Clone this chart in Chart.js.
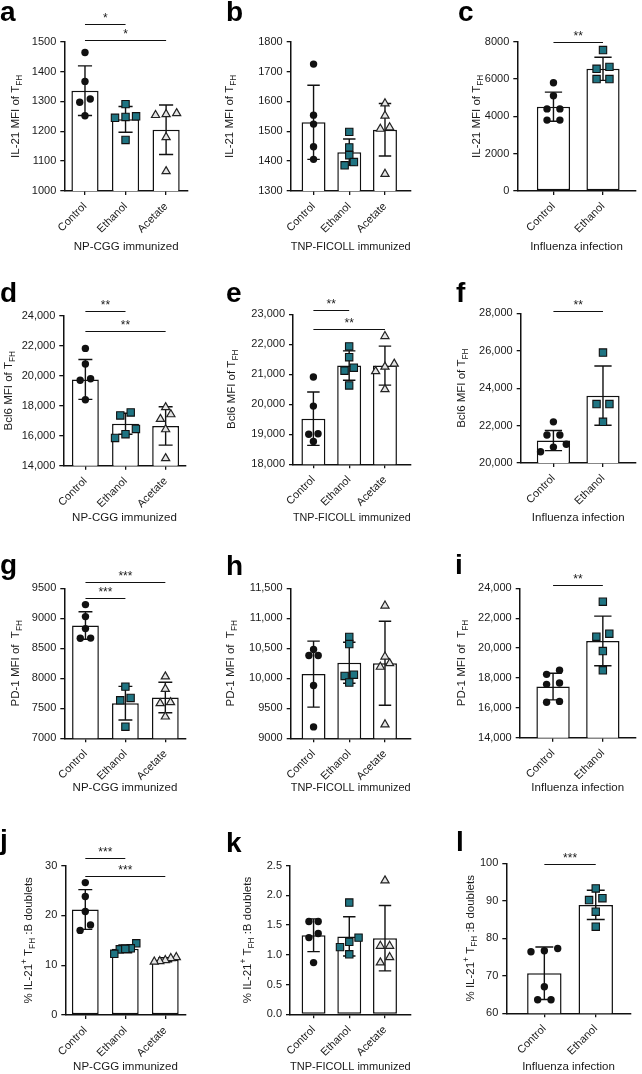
<!DOCTYPE html>
<html>

<head>
    <meta charset="utf-8">
    <script src="https://cdn.jsdelivr.net/npm/chart.js@4.4.2/dist/chart.umd.min.js"></script>
    <style>
        body { margin: 0; background: #fff; }
        #fig { position: relative; width: 642px; height: 1074px; overflow: hidden; background: #fff;
               font-family: 'Liberation Sans', Arial, Helvetica, sans-serif; }
        #fig canvas { position: absolute; }
        .tag { position: absolute; font-weight: bold; font-size: 28px; line-height: 28px; color: #000; }
    </style>
</head>

<body>
    <div id="fig"></div>
</body>
<script>
    // ---- categories ----
    const groupsNP = ['Control', 'Ethanol', 'Acetate'];
    const groupsFlu = ['Control', 'Ethanol'];

    // ---- a: IL-21, NP-CGG ----
    const aControl = [1464, 1367, 1297, 1308, 1252];
    const aEthanol = [1291, 1245, 1248, 1250, 1171];
    const aAcetate = [1254, 1260, 1257, 1180, 1066];
    const aMean = [1336, 1240, 1205];
    const aSd = [83, 43, 83];
    const aAxis = [1000, 1500, 100];
    const aSig = [[0, 1, '*'], [0, 2, '*']];

    // ---- b: IL-21, TNP-FICOLL ----
    const bControl = [1725, 1554, 1524, 1448, 1406];
    const bEthanol = [1498, 1446, 1420, 1386, 1397];
    const bAcetate = [1593, 1552, 1508, 1513, 1357];
    const bMean = [1530, 1430, 1505];
    const bSd = [124, 44, 88];
    const bAxis = [1300, 1800, 100];

    // ---- c: IL-21, influenza ----
    const cControl = [5800, 5100, 4400, 4400, 3800, 3800];
    const cEthanol = [7550, 6650, 6550, 6000, 6000];
    const cMean = [4520, 6550];
    const cSd = [780, 620];
    const cAxis = [0, 8000, 2000];
    const cSig = [[0, 1, '**']];

    // ---- d: Bcl6, NP-CGG ----
    const dControl = [21820, 20780, 19700, 19800, 18400];
    const dEthanol = [17550, 17350, 16450, 16100, 15850];
    const dAcetate = [17890, 17110, 17420, 16420, 14490];
    const dMean = [19750, 16800, 16650];
    const dSd = [1330, 700, 1280];
    const dAxis = [14000, 24000, 2000];
    const dSig = [[0, 1, '**'], [0, 2, '**']];

    // ---- e: Bcl6, TNP-FICOLL ----
    const eControl = [20910, 19940, 19000, 19020, 18760];
    const eEthanol = [21930, 21570, 21120, 21220, 20630];
    const eAcetate = [22270, 21350, 21100, 21250, 20500];
    const eMean = [19520, 21290, 21290];
    const eSd = [890, 490, 650];
    const eAxis = [18000, 23000, 1000];
    const eSig = [[0, 1, '**'], [0, 2, '**']];

    // ---- f: Bcl6, influenza ----
    const fControl = [22200, 21500, 21500, 21000, 20600, 20850];
    const fEthanol = [25900, 23150, 23150, 22200];
    const fMean = [21200, 23600];
    const fSd = [540, 1580];
    const fAxis = [20000, 28000, 2000];
    const fSig = [[0, 1, '**']];

    // ---- g: PD-1, NP-CGG ----
    const gControl = [9228, 9028, 8828, 8667, 8670];
    const gEthanol = [7861, 7633, 7672, 7194];
    const gAcetate = [8028, 7822, 7583, 7600, 7361];
    const gMean = [8880, 7585, 7680];
    const gSd = [230, 280, 255];
    const gAxis = [7000, 9500, 500];
    const gSig = [[0, 1, '***'], [0, 2, '***']];

    // ---- h: PD-1, TNP-FICOLL ----
    const hControl = [10480, 10380, 10380, 9880, 9190];
    const hEthanol = [10690, 10570, 10040, 10060, 9930];
    const hAcetate = [11210, 10360, 10190, 10250, 9230];
    const hMean = [10070, 10260, 10250];
    const hSd = [550, 342, 700];
    const hAxis = [9000, 11500, 500];

    // ---- i: PD-1, influenza ----
    const iControl = [18510, 18240, 17660, 17570, 16370, 16430];
    const iEthanol = [23100, 20960, 20760, 19800, 18510];
    const iMean = [17420, 20480];
    const iSd = [890, 1660];
    const iAxis = [14000, 24000, 2000];
    const iSig = [[0, 1, '**']];

    // ---- j: % doublets, NP-CGG ----
    const jControl = [26.6, 23.8, 20.8, 18.1, 17.0];
    const jEthanol = [14.4, 13.4, 13.2, 13.3, 12.3];
    const jAcetate = [11.6, 11.4, 11.0, 10.8, 10.7];
    const jMean = [21.2, 13.3, 11.1];
    const jSd = [4.0, 0.8, 0.4];
    const jAxis = [0, 30, 10];
    const jSig = [[0, 1, '***'], [0, 2, '***']];

    // ---- k: % doublets, TNP-FICOLL ----
    const kControl = [1.56, 1.56, 1.29, 1.36, 0.87];
    const kEthanol = [1.88, 1.29, 1.22, 1.13, 1.01];
    const kAcetate = [2.25, 1.15, 1.15, 0.87, 0.96];
    const kMean = [1.33, 1.31, 1.28];
    const kSd = [0.275, 0.33, 0.55];
    const kAxis = [0, 2.5, 0.5];

    // ---- l: % doublets, influenza ----
    const lControl = [76.4, 77.3, 76.7, 67.1, 63.6, 63.6];
    const lEthanol = [93.3, 90.2, 90.7, 87.1, 83.1];
    const lMean = [70.7, 88.9];
    const lSd = [7.0, 3.9];
    const lAxis = [60, 100, 10];
    const lSig = [[0, 1, '***']];

    // axis titles (text, 0 normal / -1 subscript / 1 superscript)
    const titleIL21 = [['IL-21 MFI of T', 0], ['FH', -1]];
    const titleBcl6 = [['Bcl6 MFI of T', 0], ['FH', -1]];
    const titlePD1 = [['PD-1 MFI of  T', 0], ['FH', -1]];
    const titleDbl = [['% IL-21', 0], ['+', 1], [' T', 0], ['FH', -1], [' :B doublets', 0]];

    const FONT = "'Liberation Sans', Arial, Helvetica, sans-serif";
    Chart.defaults.font.family = FONT;
    Chart.defaults.color = '#1a1a1a';

    const TEAL = '#1f7482';
    const markStyle = [
        { pointStyle: 'circle', radius: 3.7, bg: '#111', border: '#111', bw: 0 },
        { pointStyle: 'rect', radius: 5.2, bg: TEAL, border: '#111', bw: 1.1 },
        { pointStyle: 'triangle', radius: 4.7, bg: '#e4e4e4', border: '#222', bw: 1.2 }
    ];

    const panels = [
        { id: 'a', cats: groupsNP, groups: [aControl, aEthanol, aAcetate], mean: aMean, sd: aSd, axis: aAxis, sig: aSig, sigAt: [1559, 1505],
          yTitle: titleIL21, xTitle: 'NP-CGG immunized',
          cell: [0, 0, 214, 270], ax: 64.3, top: 41.7, bot: 191, right: 188, xr: [-0.51, 2.54], titleY: 247, yTitleX: 15, letter: [0, 22] },
        { id: 'b', cats: groupsNP, groups: [bControl, bEthanol, bAcetate], mean: bMean, sd: bSd, axis: bAxis,
          yTitle: titleIL21, xTitle: 'TNP-FICOLL immunized',
          cell: [214, 0, 214, 270], ax: 290.7, top: 41.7, bot: 191, right: 410.7, xr: [-0.64, 2.72], titleY: 247, yTitleX: 229, letter: [226, 22] },
        { id: 'c', cats: groupsFlu, groups: [cControl, cEthanol], mean: cMean, sd: cSd, axis: cAxis, sig: cSig, sigAt: [7970],
          yTitle: titleIL21, xTitle: 'Influenza infection',
          cell: [428, 0, 214, 270], ax: 517.3, top: 41.7, bot: 191, right: 641, xr: [-0.73, 1.66], titleY: 247, yTitleX: 476, letter: [458, 22] },
        { id: 'd', cats: groupsNP, groups: [dControl, dEthanol, dAcetate], mean: dMean, sd: dSd, axis: dAxis, sig: dSig, sigAt: [24310, 22980],
          yTitle: titleBcl6, xTitle: 'NP-CGG immunized',
          cell: [0, 270, 214, 260], ax: 63.3, top: 315.7, bot: 465.7, right: 185.7, xr: [-0.55, 2.5], titleY: 518, yTitleX: 8, letter: [0, 303] },
        { id: 'e', cats: groupsNP, groups: [eControl, eEthanol, eAcetate], mean: eMean, sd: eSd, axis: eAxis, sig: eSig, sigAt: [23143, 22510],
          yTitle: titleBcl6, xTitle: 'TNP-FICOLL immunized',
          cell: [214, 270, 214, 260], ax: 293, top: 314.3, bot: 464.3, right: 410.7, xr: [-0.57, 2.72], titleY: 518, yTitleX: 231, letter: [226, 303] },
        { id: 'f', cats: groupsFlu, groups: [fControl, fEthanol], mean: fMean, sd: fSd, axis: fAxis, sig: fSig, sigAt: [28120],
          yTitle: titleBcl6, xTitle: 'Influenza infection',
          cell: [428, 270, 214, 260], ax: 520.7, top: 313.3, bot: 463, right: 641, xr: [-0.66, 1.66], titleY: 518, yTitleX: 461, letter: [456, 303] },
        { id: 'g', cats: groupsNP, groups: [gControl, gEthanol, gAcetate], mean: gMean, sd: gSd, axis: gAxis, sig: gSig, sigAt: [9343, 9600],
          yTitle: titlePD1, xTitle: 'NP-CGG immunized',
          cell: [0, 530, 214, 270], ax: 64.3, top: 588.3, bot: 738.3, right: 185.7, xr: [-0.53, 2.51], titleY: 788, yTitleX: 15, letter: [0, 575] },
        { id: 'h', cats: groupsNP, groups: [hControl, hEthanol, hAcetate], mean: hMean, sd: hSd, axis: hAxis,
          yTitle: titlePD1, xTitle: 'TNP-FICOLL immunized',
          cell: [214, 530, 214, 270], ax: 290.7, top: 588.3, bot: 738.3, right: 410.7, xr: [-0.64, 2.72], titleY: 788, yTitleX: 230, letter: [226, 576] },
        { id: 'i', cats: groupsFlu, groups: [iControl, iEthanol], mean: iMean, sd: iSd, axis: iAxis, sig: iSig, sigAt: [24220],
          yTitle: titlePD1, xTitle: 'Influenza infection',
          cell: [428, 530, 214, 270], ax: 519.7, top: 588.3, bot: 737.7, right: 641, xr: [-0.67, 1.66], titleY: 788, yTitleX: 461, letter: [455, 575] },
        { id: 'j', cats: groupsNP, groups: [jControl, jEthanol, jAcetate], mean: jMean, sd: jSd, axis: jAxis, sig: jSig, sigAt: [31.5, 28.0],
          yTitle: titleDbl, xTitle: 'NP-CGG immunized',
          cell: [0, 800, 214, 274], ax: 65.3, top: 865.7, bot: 1015, right: 185.7, xr: [-0.5, 2.51], titleY: 1067, yTitleX: 28, letter: [0, 850] },
        { id: 'k', cats: groupsNP, groups: [kControl, kEthanol, kAcetate], mean: kMean, sd: kSd, axis: kAxis, dec: true,
          yTitle: titleDbl, xTitle: 'TNP-FICOLL immunized',
          cell: [214, 800, 214, 274], ax: 290, top: 865.7, bot: 1014.3, right: 410.7, xr: [-0.66, 2.72], titleY: 1067, yTitleX: 247, letter: [226, 853] },
        { id: 'l', cats: groupsFlu, groups: [lControl, lEthanol], mean: lMean, sd: lSd, axis: lAxis, sig: lSig, sigAt: [99.7],
          yTitle: titleDbl, xTitle: 'Influenza infection',
          cell: [428, 800, 214, 274], ax: 506.3, top: 863.3, bot: 1013.3, right: 630.7, xr: [-0.74, 1.68], titleY: 1067, yTitleX: 470, letter: [456, 852] }
    ];

    // spread points with nearly equal values side by side (like a scatter dot plot)
    function spread(vals, range) {
        const idx = vals.map((v, i) => i).sort((a, b) => vals[a] - vals[b]);
        const off = vals.map(() => 0);
        let group = [idx[0]];
        const flush = () => {
            const k = group.length;
            const step = k > 1 ? Math.min(0.26, 0.55 / (k - 1)) : 0;
            group.forEach((g, j) => { off[g] = (j - (k - 1) / 2) * step; });
        };
        for (let n = 1; n < idx.length; n++) {
            if (vals[idx[n]] - vals[idx[n - 1]] < range * 0.04) group.push(idx[n]);
            else { flush(); group = [idx[n]]; }
        }
        flush();
        return off;
    }

    function extrasFor(p) {
        return {
            id: 'extras' + p.id,
            afterDatasetDraw(chart, args) {
                if (args.index !== 0) return;
                const ctx = chart.ctx, ys = chart.scales.y;
                ctx.save();
                ctx.strokeStyle = '#111';
                ctx.lineWidth = 1.4;
                args.meta.data.forEach((bar, i) => {
                    const hi = ys.getPixelForValue(p.mean[i] + p.sd[i]);
                    const lo = ys.getPixelForValue(p.mean[i] - p.sd[i]);
                    const w = bar.width * 0.26;
                    ctx.beginPath();
                    ctx.moveTo(bar.x, hi); ctx.lineTo(bar.x, lo);
                    ctx.moveTo(bar.x - w, hi); ctx.lineTo(bar.x + w, hi);
                    ctx.moveTo(bar.x - w, lo); ctx.lineTo(bar.x + w, lo);
                    ctx.stroke();
                });
                ctx.restore();
            },
            afterDraw(chart) {
                const ctx = chart.ctx, xs = chart.scales.x, ys = chart.scales.y, area = chart.chartArea;
                ctx.save();
                ctx.fillStyle = '#1a1a1a';
                ctx.strokeStyle = '#111';
                ctx.lineWidth = 1.2;
                ctx.textAlign = 'center';
                ctx.textBaseline = 'alphabetic';
                ctx.font = '12px ' + FONT;
                (p.sig || []).forEach(([a, b, stars], k) => {
                    const y = Math.round(ys.getPixelForValue(p.sigAt[k])) + 0.5;
                    const x0 = xs.getPixelForValue(a), x1 = xs.getPixelForValue(b);
                    ctx.beginPath(); ctx.moveTo(x0, y); ctx.lineTo(x1, y); ctx.stroke();
                    ctx.fillText(stars, (x0 + x1) / 2, y - 3);
                });

                // rotated y title with sub/superscripts
                const size = 11.5, small = size * 0.72;
                ctx.translate(p.yTitleX - p.cell[0] + size * 0.35, (area.top + area.bottom) / 2);
                ctx.rotate(-Math.PI / 2);
                ctx.textAlign = 'left';
                let total = 0;
                const widths = p.yTitle.map(([t, m]) => {
                    ctx.font = (m ? small : size) + 'px ' + FONT;
                    const w = ctx.measureText(t).width;
                    total += w;
                    return w;
                });
                let x = -total / 2;
                p.yTitle.forEach(([t, m], k) => {
                    ctx.font = (m ? small : size) + 'px ' + FONT;
                    const dy = m === -1 ? size * 0.28 : m === 1 ? -size * 0.4 : 0;
                    ctx.fillText(t, x, dy);
                    x += widths[k];
                });
                ctx.restore();
            }
        };
    }

    const fig = document.getElementById('fig');

    function makePanel(p) {
        const [cx, cy, cw, ch] = p.cell;
        const canvas = document.createElement('canvas');
        canvas.width = cw;
        canvas.height = ch;
        canvas.style.left = cx + 'px';
        canvas.style.top = cy + 'px';
        canvas.style.width = cw + 'px';
        canvas.style.height = ch + 'px';
        fig.appendChild(canvas);

        const tag = document.createElement('div');
        tag.className = 'tag';
        tag.textContent = p.id;
        tag.style.left = p.letter[0] + 'px';
        tag.style.top = (p.letter[1] - 23.7) + 'px';
        fig.appendChild(tag);

        const yW = p.ax - cx - 1;
        const xH = p.titleY - p.bot + 6.9;
        const [ymin, ymax, ystep] = p.axis;
        const range = ymax - ymin;

        const datasets = [{
            type: 'bar',
            order: 2,
            data: p.mean.map((m, i) => ({ x: i, y: m })),
            backgroundColor: '#fff',
            borderColor: '#111',
            borderWidth: 1.5,
            borderSkipped: false,
            categoryPercentage: 1,
            barPercentage: 0.67
        }];
        p.groups.forEach((vals, g) => {
            const off = spread(vals, range);
            const s = markStyle[g];
            datasets.push({
                type: 'scatter',
                order: 1,
                data: vals.map((v, k) => ({ x: g + off[k], y: v })),
                pointStyle: s.pointStyle,
                pointRadius: s.radius,
                backgroundColor: s.bg,
                borderColor: s.border,
                borderWidth: s.bw,
                clip: false
            });
        });

        const fmt = p.dec ? v => v.toFixed(1) : v => (v >= 10000 ? v.toLocaleString('en-US') : String(v));
        const axisGrid = { display: true, drawOnChartArea: false, drawTicks: true, tickLength: 4, color: '#111', lineWidth: 1.3, offset: false };
        const axisBorder = { color: '#111', width: 1.5 };

        new Chart(canvas, {
            type: 'bar',
            data: { datasets },
            plugins: [extrasFor(p)],
            options: {
                responsive: false,
                animation: false,
                devicePixelRatio: 1,
                events: [],
                layout: {
                    padding: {
                        left: 1,
                        top: p.top - cy,
                        right: cx + cw - p.right,
                        bottom: Math.max(0, cy + ch - p.bot - xH)
                    }
                },
                plugins: { legend: { display: false }, tooltip: { enabled: false } },
                scales: {
                    x: {
                        type: 'linear',
                        min: p.xr[0],
                        max: p.xr[1],
                        bounds: 'data',
                        offset: false,
                        afterBuildTicks: s => { s.ticks = p.cats.map((c, i) => ({ value: i })); },
                        afterFit: s => { s.height = xH; },
                        grid: axisGrid,
                        border: axisBorder,
                        ticks: {
                            autoSkip: false, minRotation: 45, maxRotation: 45, padding: 5,
                            font: { size: 11 }, color: '#1a1a1a',
                            callback: v => p.cats[v]
                        },
                        title: { display: true, text: p.xTitle, font: { size: 11.5 }, padding: 0, color: '#1a1a1a' }
                    },
                    y: {
                        min: ymin,
                        max: ymax,
                        afterFit: s => { s.width = yW; },
                        grid: axisGrid,
                        border: axisBorder,
                        ticks: { stepSize: ystep, padding: 4, font: { size: 11 }, color: '#1a1a1a', callback: fmt }
                    }
                }
            }
        });
    }

    panels.forEach(makePanel);
</script>

</html>
